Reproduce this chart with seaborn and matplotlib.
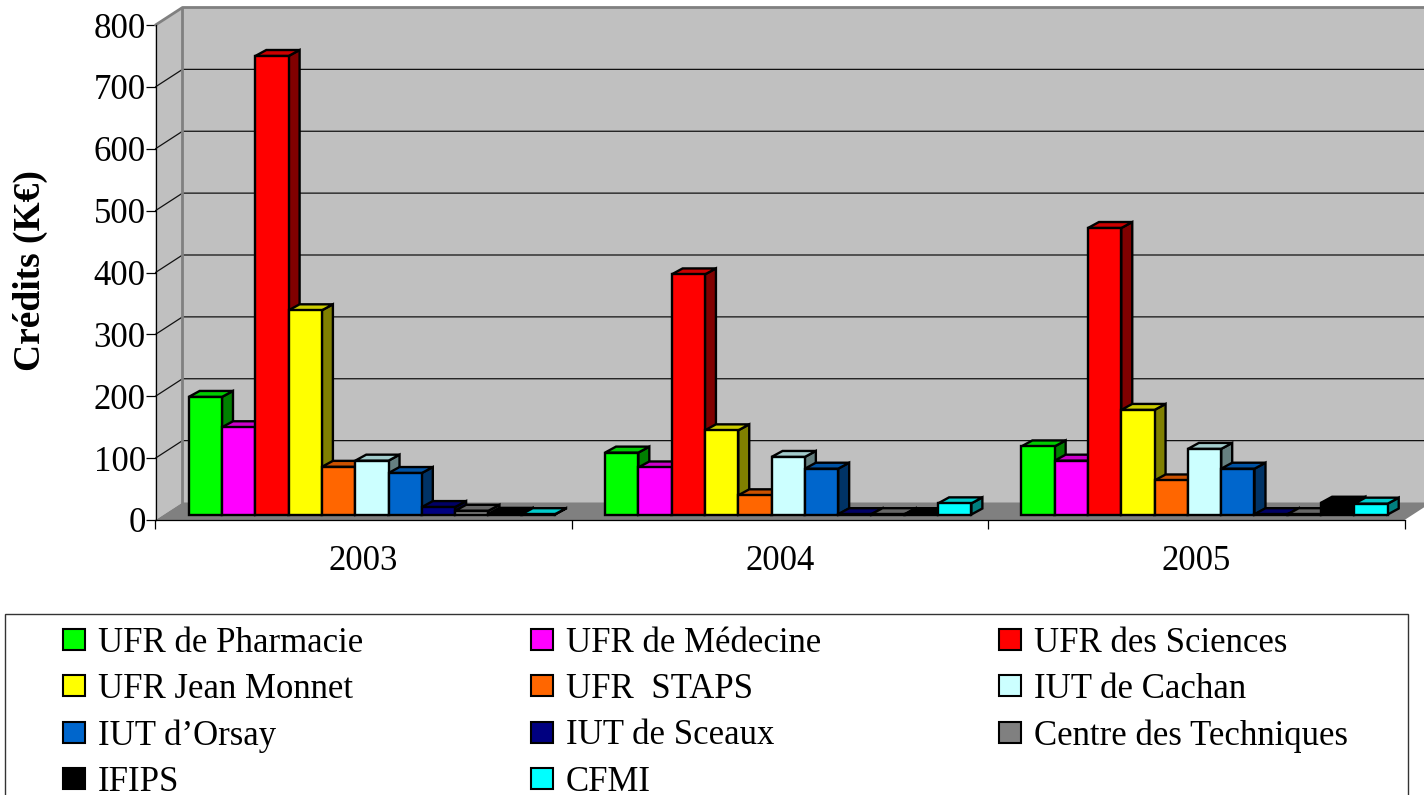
import numpy             as np
import matplotlib
matplotlib.use('Agg')
import matplotlib.pyplot as plt
import pandas            as pd
import seaborn           as sns

from matplotlib.patches import Polygon, Patch, Rectangle

## Data
annees      = ['2003', '2004', '2005']
composantes = ['UFR de Pharmacie', 'UFR de Médecine', 'UFR des Sciences',
               'UFR Jean Monnet', 'UFR  STAPS', 'IUT de Cachan',
               'IUT d’Orsay', 'IUT de Sceaux', 'Centre des Techniques',
               'IFIPS', 'CFMI']
couleurs    = ['#00FF00', '#FF00FF', '#FF0000', '#FFFF00', '#FF6600', '#CCFFFF',
               '#0066CC', '#000080', '#808080', '#000000', '#00FFFF']
credits_2003 = [190, 141, 741, 330, 77, 87, 67, 12, 6, 1, 0.5]
credits_2004 = [100, 76, 388, 136, 31, 93, 74, 0.5, 0.5, 0.5, 18]
credits_2005 = [110, 87, 463, 169, 55, 106, 74, 0.5, 0.5, 19, 17.5]

rows = []
for annee, valeurs in zip(annees, [credits_2003, credits_2004, credits_2005]):
    for nom, v in zip(composantes, valeurs):
        rows.append({'annee': annee, 'composante': nom, 'credits': v})
data = pd.DataFrame(rows)

W, H = 1424, 795
sns.set_theme(style='white')
plt.rcParams['font.family'] = ['Liberation Serif', 'DejaVu Serif']

fig = plt.figure(figsize=(W / 100, H / 100), dpi=100)
ax  = fig.add_axes([155.5 / W, 1 - 520 / H, 1249 / W, 495 / H])
ax.patch.set_visible(False)

sns.barplot(data=data, x='annee', y='credits', hue='composante', order=annees,
            hue_order=composantes, palette=couleurs, saturation=1, width=0.88,
            gap=0, edgecolor='black', linewidth=1.7, legend=False, ax=ax)
ax.set_xlim(-0.5, 2.5)
ax.set_ylim(0, 800)

## pixels -> data units, for the fake 3D depth
sx = 3 / 1249
sy = 800 / 495
wall_dx, wall_dy = 27 * sx, 17.5 * sy
bar_dx,  bar_dy  = 8.2 * sx, 5.5 * sy
dep_dx,  dep_dy  = 11 * sx, 6 * sy

## walls and floor
x0, x1 = -0.5, 2.5
wall_kw = dict(clip_on=False, zorder=0.5, linewidth=0)
ax.add_patch(Polygon([(x0 + wall_dx, wall_dy), (x1 + 2 * wall_dx, wall_dy),
                      (x1 + 2 * wall_dx, 800 + wall_dy), (x0 + wall_dx, 800 + wall_dy)],
                     facecolor='#C0C0C0', **wall_kw))
ax.add_patch(Polygon([(x0, 0), (x0 + wall_dx, wall_dy), (x0 + wall_dx, 800 + wall_dy), (x0, 800)],
                     facecolor='#C0C0C0', **wall_kw))
ax.add_patch(Polygon([(x0, 0), (x0 + wall_dx, wall_dy), (x1 + wall_dx, wall_dy), (x1, 0)],
                     facecolor='#808080', clip_on=False, zorder=0.9, linewidth=0))

for v in range(100, 800, 100):
    ax.plot([x0, x0 + wall_dx, x1 + 2 * wall_dx], [v, v + wall_dy, v + wall_dy],
            color='#111111', lw=0.9, clip_on=False, zorder=0.8)

## gray edges of the walls
ax.plot([x0, x0 + wall_dx, x1 + 2 * wall_dx], [800, 800 + wall_dy, 800 + wall_dy],
        color='#808080', lw=2, clip_on=False, zorder=0.85)
ax.plot([x0 + wall_dx, x0 + wall_dx], [wall_dy, 800 + wall_dy],
        color='#808080', lw=2, clip_on=False, zorder=0.85)

## depth faces of the bars, left to right so that the next bar covers the last one
bars = sorted([p for c in ax.containers for p in c], key=lambda p: p.get_x())
for i, p in enumerate(bars):
    fc = np.array(p.get_facecolor()[:3])
    p.set_x(p.get_x() + bar_dx)
    p.set_y(bar_dy)
    p.set_clip_on(False)
    p.set_zorder(5)
    p.set_joinstyle('miter')

    xa, xb = p.get_x(), p.get_x() + p.get_width()
    yb, yt = p.get_y(), p.get_y() + p.get_height()
    ax.add_patch(Polygon([(xb, yb), (xb + dep_dx, yb + dep_dy), (xb + dep_dx, yt + dep_dy), (xb, yt)],
                         facecolor=fc * 0.5, edgecolor='black', linewidth=1.7,
                         clip_on=False, zorder=2 + i * 0.01))
    ax.add_patch(Polygon([(xa, yt), (xa + dep_dx, yt + dep_dy), (xb + dep_dx, yt + dep_dy), (xb, yt)],
                         facecolor=fc * 0.8, edgecolor='black', linewidth=1.7,
                         clip_on=False, zorder=2 + i * 0.01 + 0.005))

## axes
sns.despine(ax=ax, top=True, right=True)
for s in ['left', 'bottom']:
    ax.spines[s].set_color('black')
    ax.spines[s].set_linewidth(0.9)
ax.set_yticks(range(0, 900, 100))
ax.tick_params(axis='y', left=True, length=7, width=0.9, color='black', labelsize=25,
               labelcolor='black', pad=0)
ax.tick_params(axis='x', which='major', bottom=False, length=0, labelsize=25,
               labelcolor='black', pad=18)
ax.set_xticks([-0.5, 0.5, 1.5, 2.5], minor=True)
ax.tick_params(axis='x', which='minor', bottom=True, length=6.5, width=0.9, color='black')
ax.set_xlabel('')
ax.set_ylabel('')
fig.text(30 / W, 1 - 271 / H, 'Crédits (K€)', rotation=90, ha='center', va='center',
         fontsize=27, fontweight='bold', color='black')

## legend frame, runs off the bottom of the picture
fig.add_artist(Rectangle((5 / W, -0.02), 1403 / W, 1 - 614 / H + 0.02, transform=fig.transFigure,
                         facecolor='white', edgecolor='#333333', linewidth=1, zorder=-1))

## one legend per column so the columns land on their own x
handles = [Patch(facecolor=c, edgecolor='black', linewidth=1.5) for c in couleurs]
colonnes = [(63, [0, 3, 6, 9]), (531, [1, 4, 7, 10]), (999, [2, 5, 8])]
for x_col, idx in colonnes:
    fig.legend([handles[i] for i in idx], [composantes[i] for i in idx],
               loc='upper left', bbox_to_anchor=(x_col / W, 1 - 627 / H), frameon=False,
               fontsize=25, labelcolor='black', handlelength=0.63, handleheight=0.55,
               handletextpad=0.37, labelspacing=0.38, borderpad=0, borderaxespad=0)

fig.savefig('out.png', dpi=100)
